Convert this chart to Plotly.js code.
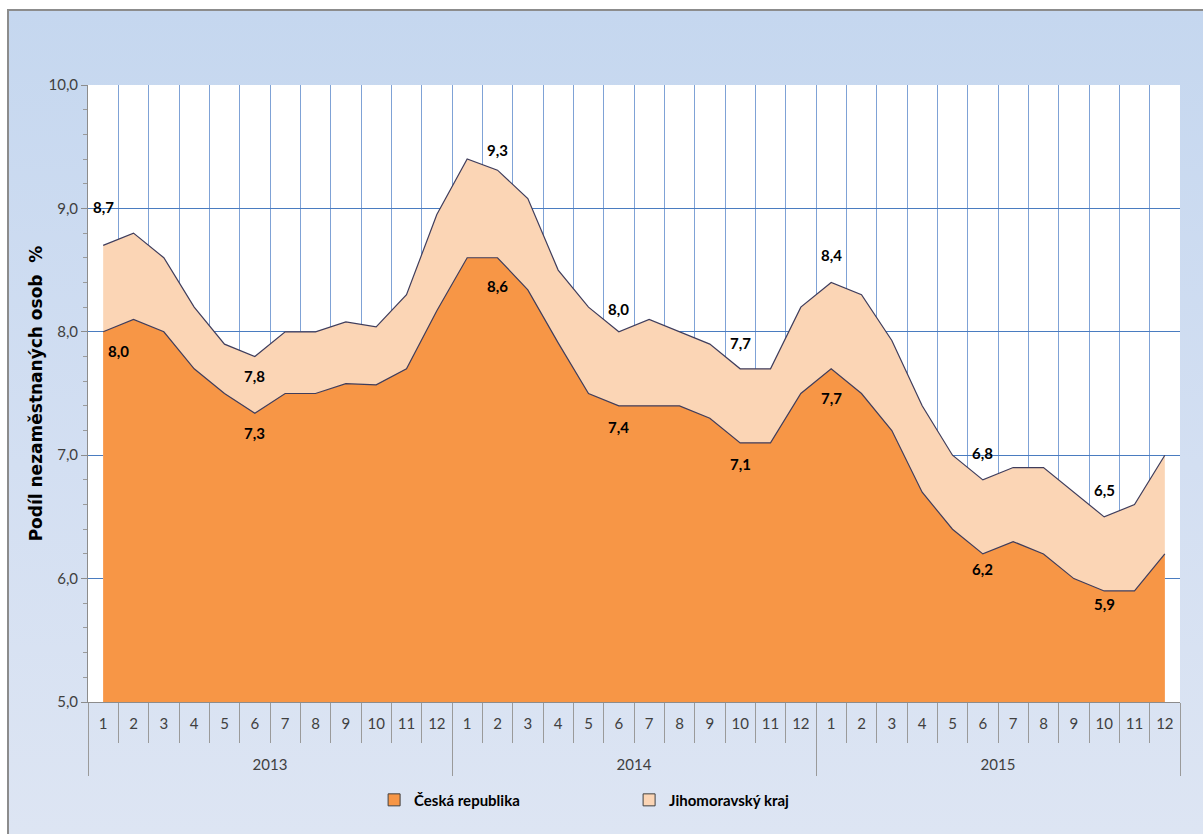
<!DOCTYPE html>
<html>
<head>
<meta charset="utf-8">
<script src="https://cdn.plot.ly/plotly-3.0.1.min.js"></script>
<style>
  html, body { margin: 0; padding: 0; background: #ffffff; }
  #frame {
    position: absolute; left: 7px; top: 9px; width: 1196px; height: 825px;
    border-top: 2px solid #8c8c8c; border-left: 2px solid #8c8c8c;
    background: linear-gradient(to bottom, #c5d7ef 0%, #d3dff2 55%, #dde5f3 100%);
    box-sizing: border-box;
  }
  #chart { position: absolute; left: 0; top: 0; width: 1203px; height: 834px; }
</style>
</head>
<body>
<div id="frame"></div>
<div id="chart"></div>
<script>
// ---- data ----
const years = ['2013','2013','2013','2013','2013','2013','2013','2013','2013','2013','2013','2013',
               '2014','2014','2014','2014','2014','2014','2014','2014','2014','2014','2014','2014',
               '2015','2015','2015','2015','2015','2015','2015','2015','2015','2015','2015','2015'];
const months = ['1','2','3','4','5','6','7','8','9','10','11','12',
                '1','2','3','4','5','6','7','8','9','10','11','12',
                '1','2','3','4','5','6','7','8','9','10','11','12'];
const jihomoravsky = [8.7, 8.8, 8.6, 8.2, 7.9, 7.8, 8.0, 8.0, 8.08, 8.04, 8.3, 8.95,
                      9.4, 9.31, 9.08, 8.5, 8.2, 8.0, 8.1, 8.0, 7.9, 7.7, 7.7, 8.2,
                      8.4, 8.3, 7.93, 7.4, 7.0, 6.8, 6.9, 6.9, 6.7, 6.5, 6.6, 7.0];
const ceskaRepublika = [8.0, 8.1, 8.0, 7.7, 7.5, 7.34, 7.5, 7.5, 7.58, 7.57, 7.7, 8.17,
                        8.6, 8.6, 8.34, 7.91, 7.5, 7.4, 7.4, 7.4, 7.3, 7.1, 7.1, 7.5,
                        7.7, 7.5, 7.2, 6.7, 6.4, 6.2, 6.3, 6.2, 6.0, 5.9, 5.9, 6.2];
const labelIndices = [0, 5, 13, 17, 21, 24, 29, 33];
const seriesNames = ['Česká republika', 'Jihomoravský kraj'];
const yTitle = 'Podíl nezaměstnaných osob  %';

// ---- derived categories ----
const xCats = years.map((y, i) => y + '-' + months[i]);
const yearCats = [...new Set(years)];

// ---- styling ----
const colCR = '#f79646', colJMK = '#fbd5b5', edge = '#3f3d5c';
const jmkShift = [-38, 20, -20, -23, -26, -27, -27, -27];
const crShift  = [19, 20, 28, 21, 21, 29, 15, 13];
const crXShift = [15, 0, 0, 0, 0, 0, 0, 0];

const fmt = v => v.toFixed(1).replace('.', ',');
const labelFont = { family: 'Lato, sans-serif', size: 15, color: '#000000', weight: 700 };

const annotations = [];
labelIndices.forEach((i, k) => {
  annotations.push({ x: xCats[i], y: jihomoravsky[i], xref: 'x', yref: 'y', text: '<b>' + fmt(jihomoravsky[i]) + '</b>',
    showarrow: false, yshift: -jmkShift[k], font: labelFont });
  annotations.push({ x: xCats[i], y: ceskaRepublika[i], xref: 'x', yref: 'y', text: '<b>' + fmt(ceskaRepublika[i]) + '</b>',
    showarrow: false, yshift: -crShift[k], xshift: crXShift[k], font: labelFont });
});

const lineStyle = { color: edge, width: 1.2 };
const traces = [
  { type: 'scatter', mode: 'lines', name: seriesNames[1], x: xCats, y: jihomoravsky,
    fill: 'tozeroy', fillcolor: colJMK, line: lineStyle, showlegend: false, hoverinfo: 'y' },
  { type: 'scatter', mode: 'lines', name: seriesNames[0], x: xCats, y: ceskaRepublika,
    fill: 'tozeroy', fillcolor: colCR, line: lineStyle, showlegend: false, hoverinfo: 'y' },
  // legend swatches
  { type: 'bar', name: seriesNames[0], x: [xCats[0]], y: [null], marker: { color: colCR, line: { color: '#404040', width: 1 } }, legendrank: 1 },
  { type: 'bar', name: seriesNames[1], x: [xCats[0]], y: [null], marker: { color: colJMK, line: { color: '#404040', width: 1 } }, legendrank: 2 },
  // year axis carrier
  { type: 'scatter', mode: 'markers', x: yearCats, y: yearCats.map(() => null), xaxis: 'x2', showlegend: false, hoverinfo: 'skip' }
];

const tickFont = { family: 'Lato, sans-serif', size: 15, color: '#404040' };
const layout = {
  width: 1203, height: 834,
  paper_bgcolor: 'rgba(0,0,0,0)', plot_bgcolor: '#ffffff',
  margin: { l: 88, r: 23, t: 85, b: 132 },
  separators: ', ',
  showlegend: true,
  legend: { orientation: 'h', x: 0.262, xanchor: 'left', y: -0.159, yanchor: 'middle',
            font: { family: 'Lato, sans-serif', size: 15, color: '#000000', weight: 700 },
            entrywidth: 210, entrywidthmode: 'pixels', itemwidth: 30, traceorder: 'normal',
            bgcolor: 'rgba(0,0,0,0)' },
  xaxis: { type: 'category', categoryorder: 'array', categoryarray: xCats, range: [-0.5, 35.5],
           tickvals: xCats, ticktext: months, tickfont: tickFont, ticklabelstandoff: 8,
           showgrid: true, gridcolor: '#7fa2d6', gridwidth: 1,
           showline: true, linecolor: '#8c8c8c', linewidth: 1, ticks: 'outside', ticklen: 40,
           tickcolor: '#9a9a9a', tickson: 'boundaries', zeroline: false, fixedrange: true },
  xaxis2: { type: 'category', categoryorder: 'array', categoryarray: yearCats, range: [-0.5, 2.5],
            overlaying: 'x', anchor: 'y', side: 'bottom', tickfont: tickFont,
            showgrid: false, showline: false, ticks: 'outside', ticklen: 73, tickcolor: '#9a9a9a',
            tickson: 'boundaries', ticklabelstandoff: 52, zeroline: false, fixedrange: true },
  yaxis: { range: [5, 10], dtick: 1, tick0: 5, tickformat: '.1f', tickfont: tickFont,
           showgrid: true, gridcolor: '#4a7cc0', gridwidth: 1, zeroline: false,
           showline: true, linecolor: '#8c8c8c', linewidth: 1, ticks: 'outside', ticklen: 6, tickcolor: '#8c8c8c',
           minor: { dtick: 0.2, ticks: 'outside', ticklen: 4, tickcolor: '#9a9a9a', showgrid: false },
           title: { text: yTitle, standoff: 1, font: { family: 'DejaVu Sans, sans-serif', size: 17, color: '#000000', weight: 700 } },
           fixedrange: true },
  annotations: annotations
};

Plotly.newPlot('chart', traces, layout, { displayModeBar: false, staticPlot: true });
</script>
</body>
</html>
